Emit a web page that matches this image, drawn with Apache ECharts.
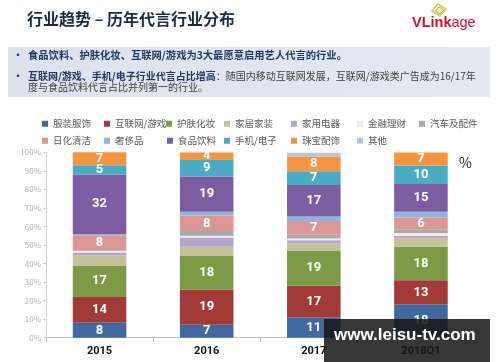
<!DOCTYPE html>
<html><head><meta charset="utf-8">
<script src="https://cdn.jsdelivr.net/npm/echarts@6/dist/echarts.min.js"></script>
<style>html,body{margin:0;padding:0;background:#fff}#c{width:500px;height:362px}</style>
</head><body><div id="c"></div>
<script>
// ---- data ----
const categories = ['2015', '2016', '2017', '2018Q1'];
const yTickLabels = ['0%', '10%', '20%', '30%', '40%', '50%', '60%', '70%', '80%', '90%', '100%'];
const seriesNames = ['服装服饰', '互联网/游戏', '护肤化妆', '家居家装', '家用电器', '金融理财', '汽车及配件',
                     '日化清洁', '奢侈品', '食品饮料', '手机/电子', '珠宝配饰', '其他'];
const fuzhuang   = [8, 7, 11, 18];
const hulianwang = [14, 19, 17, 13];
const hufu       = [17, 18, 19, 18];
const jiaju      = [5.4, 5, 4, 4.5];
const jiayong    = [1.5, 5, 1.5, 1.5];
const jinrong    = [0.9, 1, 1, 1.5];
const qiche      = [0.3, 2.5, 2, 2];
const rihua      = [8.2, 8.4, 7.4, 6.4];
const shechi     = [0.7, 2, 2.5, 3];
const shipin     = [32, 19, 17, 15];
const shouji     = [5, 9, 7.4, 10];
const zhubao     = [7, 4, 8, 7];
const qita       = [0, 0.1, 2, 0];
const seriesValues = [fuzhuang, hulianwang, hufu, jiaju, jiayong, jinrong, qiche, rihua, shechi, shipin, shouji, zhubao, qita];
const labelledSeries = ['服装服饰', '互联网/游戏', '护肤化妆', '日化清洁', '食品饮料', '手机/电子', '珠宝配饰'];

// ---- styles ----
const colors = ['#41689f', '#a23a38', '#7d9a46', '#c6c09b', '#b2a6cb', '#f3e9e9', '#a9a9a9',
                '#db9794', '#8eb5e0', '#7c5da1', '#4aabc4', '#f5953f', '#b9c2df'];
const FONT = '"Noto Sans CJK SC", "Noto Sans", sans-serif';

const series = seriesNames.map((name, i) => ({
  name: name,
  type: 'bar',
  stack: 'total',
  barWidth: '50%',
  data: seriesValues[i],
  itemStyle: { color: colors[i] },
  label: {
    show: labelledSeries.includes(name),
    position: 'inside',
    color: '#fff',
    fontWeight: 'bold',
    fontSize: 13,
    fontFamily: 'Roboto, "Noto Sans", sans-serif',
    formatter: p => Math.round(p.value)
  }
}));

// legend laid out as a 7-column grid (one legend component per item)
const legendCols = [[37, 99, 161, 219, 286, 352, 414], [37, 99, 162, 219, 286, 352]];
const legends = seriesNames.map((name, i) => {
  const row = i < 7 ? 0 : 1;
  const col = i < 7 ? i : i - 7;
  return {
    data: [name], left: legendCols[row][col], top: row === 0 ? 114 : 131,
    itemWidth: 6, itemHeight: 6, icon: 'rect', selectedMode: false,
    textStyle: { fontSize: 9.5, color: '#595959', fontFamily: FONT }
  };
});

const chart = echarts.init(document.getElementById('c'), null, { renderer: 'canvas' });
chart.setOption({
  backgroundColor: '#fff',
  animation: false,
  color: colors,
  legend: legends,
  grid: { left: 46, right: 25.5, top: 152.3, bottom: 24.3, containLabel: false },
  xAxis: {
    type: 'category',
    data: categories,
    axisLine: { lineStyle: { color: '#bfbfbf' } },
    axisTick: { show: true, length: 4, lineStyle: { color: '#bfbfbf' } },
    axisLabel: { color: '#111', fontWeight: 'bold', fontSize: 11, margin: 8, fontFamily: 'Roboto, sans-serif' }
  },
  yAxis: {
    type: 'value',
    min: 0, max: 100, interval: 10,
    axisLine: { show: true, lineStyle: { color: '#d0d0d0' } },
    axisTick: { show: true, length: 3, lineStyle: { color: '#d0d0d0' } },
    splitLine: { show: false },
    axisLabel: { color: '#b0b0b0', fontSize: 8, margin: 5, fontFamily: FONT,
                 formatter: v => yTickLabels[Math.round(v / 10)] }
  },
  graphic: [
    { type: 'text', left: 27, top: 11, style: { text: '行业趋势 – 历年代言行业分布', fill: '#1e2b45',
      font: 'bold 16px ' + FONT } },
    // logo
    { type: 'polygon', shape: { points: [[432, 11], [438, 4], [446, 9], [440, 16]] },
      style: { fill: 'none', stroke: '#e8c440', lineWidth: 1.5 } },
    { type: 'polygon', shape: { points: [[435, 11], [439, 7], [444, 10], [440, 14]] },
      style: { fill: '#e9f0c8', stroke: '#8cbf4a', lineWidth: 1 } },
    { type: 'text', left: 412, top: 15, style: {
      text: '{a|VLink}{b|age}',
      rich: { a: { fill: '#d0112b', font: 'bold 14.5px "Liberation Sans", Arial, sans-serif' },
              b: { fill: '#d0112b', font: '14.5px "Liberation Sans", Arial, sans-serif' } } } },
    // box
    { type: 'rect', shape: { x: 8, y: 47, width: 482, height: 50 },
      style: { fill: new echarts.graphic.LinearGradient(0, 0, 1, 0, [
        { offset: 0, color: '#dde2ee' }, { offset: 1, color: '#e6e9f2' }]) } },
    { type: 'text', left: 13, top: 50, style: { text: '•', fill: '#1f3864', font: 'bold 10px ' + FONT } },
    { type: 'text', left: 28, top: 50, style: { text: '食品饮料、护肤化妆、互联网/游戏为3大最愿意启用艺人代言的行业。',
      fill: '#1f3864', font: 'bold 10.3px ' + FONT } },
    { type: 'text', left: 13, top: 71, style: { text: '•', fill: '#1f3864', font: 'bold 10px ' + FONT } },
    { type: 'text', left: 28, top: 71, style: {
      text: '{b|互联网/游戏、手机/电子行业代言占比增高}{n|：随国内移动互联网发展，互联网/游戏类广告成为16/17年}\n{n|度与食品饮料代言占比并列第一的行业。}',
      lineHeight: 11,
      rich: { b: { fill: '#1f3864', font: 'bold 10px ' + FONT, lineHeight: 11 },
              n: { fill: '#404040', font: '10px ' + FONT, lineHeight: 11 } } } },
    { type: 'text', left: 459, top: 156, style: { text: '%', fill: '#222', font: '14px ' + FONT } },
    // watermark overlay
    { type: 'rect', z: 100, shape: { x: 324, y: 319, width: 166, height: 43 },
      style: { fill: 'rgba(22,22,22,0.86)' } },
    { type: 'text', z: 101, left: 334, top: 327, style: { text: 'www.leisu-tv.com', fill: '#fff',
      font: 'bold 17px "Liberation Sans", sans-serif' } }
  ],
  series: series
});
</script>
</body></html>
